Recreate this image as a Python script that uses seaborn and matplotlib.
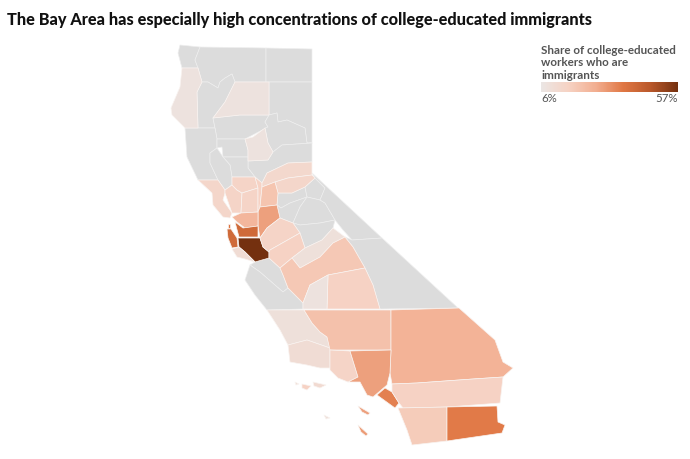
import matplotlib
matplotlib.use("Agg")
import matplotlib.pyplot as plt
import seaborn as sns
from matplotlib.collections import PolyCollection
from matplotlib.cm import ScalarMappable
from matplotlib.colors import Normalize

TITLE = "The Bay Area has especially high concentrations of college-educated immigrants"
LEGEND_TITLE = "Share of college-educated\nworkers who are\nimmigrants"
LOW, HIGH = 6, 57
RAMP = ["#ebe6e4", "#f6d2c3", "#f2ae90", "#e07744", "#b9582a", "#74300f"]

# county outlines (in picture coordinates)
shapes = {
 "Del Norte": [(180,45),(200,47),(195,60),(198,68),(182,68),(178,53)],
 "Siskiyou": [(200,47),(266,48),(266,82),(235,82),(232,74),(225,78),(220,82),(218,88),(208,82),(202,82),(198,68),(195,60)],
 "Modoc": [(266,48),(312,49),(312,82),(266,82)],
 "Humboldt": [(182,68),(198,68),(202,82),(197,92),(198,128),(185,128),(172,115),(171,108),(180,87)],
 "Trinity": [(202,82),(208,82),(218,88),(220,82),(225,78),(232,74),(235,82),(225,102),(213,118),(215,128),(198,128),(197,92)],
 "Shasta": [(235,82),(269,82),(269,115),(240,115),(213,118),(225,102)],
 "Lassen": [(269,82),(312,82),(312,143),(307,143),(305,128),(287,120),(278,122),(277,113),(269,115)],
 "Tehama": [(213,118),(240,115),(269,115),(265,122),(268,127),(245,139),(217,139),(215,128)],
 "Plumas": [(269,115),(277,113),(278,122),(287,120),(305,128),(307,143),(312,143),(282,145),(273,152),(268,143),(265,128),(268,127),(265,122)],
 "Butte": [(245,139),(253,137),(265,128),(268,143),(273,152),(268,160),(248,161),(248,150)],
 "Sierra": [(273,152),(282,145),(312,143),(312,162),(288,163),(267,173),(262,183),(255,177),(248,168),(248,161),(268,160)],
 "Mendocino": [(185,128),(215,128),(217,139),(217,148),(210,153),(210,163),(218,180),(198,180),(187,157)],
 "Glenn": [(217,139),(245,139),(248,150),(248,157),(223,157),(222,147),(217,148)],
 "Colusa": [(223,157),(248,157),(248,168),(255,177),(232,177),(230,165)],
 "Lake": [(210,153),(217,148),(223,157),(230,165),(232,177),(232,185),(225,190),(218,180),(210,163)],
 "Sonoma": [(198,180),(218,180),(225,190),(225,193),(223,200),(232,213),(230,218),(223,217),(213,205),(212,193)],
 "Napa": [(225,190),(232,185),(237,190),(242,193),(241,213),(232,213),(225,193)],
 "Yolo North": [(232,177),(255,177),(258,188),(242,193),(237,190),(232,185)],
 "Yolo": [(242,193),(258,188),(258,212),(241,213)],
 "Sutter": [(255,177),(262,183),(262,187),(260,207),(258,212),(258,188)],
 "Nevada": [(262,183),(267,173),(288,163),(312,162),(312,175),(288,178),(275,182),(262,187)],
 "Placer": [(275,182),(288,178),(312,175),(315,178),(305,187),(292,193),(278,193)],
 "Sacramento": [(262,187),(275,182),(278,193),(277,205),(260,207)],
 "San Joaquin": [(258,212),(260,207),(277,205),(280,218),(267,228),(260,238),(258,226)],
 "Solano": [(232,217),(241,213),(258,212),(258,226),(245,228),(237,222)],
 "Contra Costa": [(235,222),(243,228),(258,226),(258,237),(239,237)],
 "Santa Clara": [(238,238),(260,238),(263,247),(269,252),(269,258),(255,262),(245,252),(239,247)],
 "San Mateo": [(227,229),(231,229),(237,238),(238,247),(232,248),(228,238)],
 "San Francisco": [(228,224),(230,224),(230,228),(228,228)],
 "Santa Cruz": [(232,249),(239,247),(245,252),(255,262),(245,259),(237,257)],
 "Amador": [(278,193),(292,193),(305,187),(307,197),(290,203),(281,208),(277,205)],
 "Alpine": [(305,187),(315,178),(325,188),(320,200),(307,197)],
 "Calaveras": [(277,205),(281,208),(290,203),(307,197),(300,207),(293,223),(280,218)],
 "Tuolumne": [(307,197),(320,200),(325,203),(335,220),(320,223),(300,225),(293,223),(300,207)],
 "Mono": [(312,173),(382,238),(352,240),(343,230),(335,220),(325,203),(320,200),(325,188),(315,178)],
 "Inyo": [(352,240),(382,238),(458,308),(380,309),(373,285),(365,268),(353,247),(345,237)],
 "Stanislaus": [(260,238),(267,228),(280,218),(293,223),(300,233),(270,250),(269,252),(263,247)],
 "Merced": [(270,250),(300,233),(305,248),(292,258),(280,268),(269,258),(269,252)],
 "Mariposa": [(293,223),(300,225),(320,223),(335,220),(333,228),(322,240),(305,248),(300,233)],
 "Madera": [(292,258),(305,248),(322,240),(333,228),(345,237),(333,243),(320,257),(300,268)],
 "Fresno": [(280,268),(292,258),(300,268),(320,257),(333,243),(345,237),(353,247),(365,268),(328,275),(310,285),(303,303),(288,288),(283,275)],
 "Tulare": [(328,275),(365,268),(373,285),(380,309),(327,309)],
 "Kings": [(303,303),(310,285),(328,275),(327,309),(303,309)],
 "San Benito": [(255,262),(269,258),(280,268),(283,275),(288,288),(283,292),(260,272),(250,265)],
 "Monterey": [(245,280),(250,265),(260,272),(283,292),(288,288),(303,303),(303,309),(267,310),(255,295)],
 "San Luis Obispo": [(267,310),(304,310),(312,323),(320,332),(327,337),(330,348),(307,340),(288,345),(280,330)],
 "Santa Barbara": [(288,345),(307,340),(330,348),(330,368),(320,368),(307,365),(290,362)],
 "Kern": [(304,310),(391,310),(391,350),(330,350),(327,337),(320,332),(312,323)],
 "San Bernardino": [(391,310),(459,308),(495,340),(503,362),(513,368),(503,377),(473,379),(417,383),(392,384),(390,373),(391,350)],
 "Ventura": [(330,350),(350,351),(358,377),(348,382),(338,378),(330,370)],
 "Los Angeles": [(350,351),(391,350),(390,373),(387,385),(373,397),(367,395),(360,382),(348,382),(358,377)],
 "Orange": [(377,395),(385,388),(392,392),(399,403),(395,408)],
 "Riverside": [(392,384),(417,383),(473,379),(503,377),(500,403),(447,407),(403,408),(399,403),(392,392)],
 "San Diego": [(398,408),(447,407),(447,441),(412,445),(407,430)],
 "Imperial": [(447,407),(497,406),(498,422),(505,425),(502,433),(447,441)],
 "Island A": [(302,384),(311,386),(307,390),(302,388)],
 "Island B": [(313,382),(326,385),(320,388),(314,386)],
 "Island C": [(295,382),(299,384),(296,385)],
 "Catalina": [(358,406),(370,413),(368,415),(362,412)],
 "San Clemente": [(358,425),(368,434),(366,436),(361,432)],
 "Island D": [(324,415),(330,418),(326,419)],
}

# share of college-educated workers who are immigrants, per county
shares = {
 "Humboldt": 8, "Shasta": 8, "Butte": 8,
 "Sonoma": 14, "Napa": 15, "Yolo North": 15, "Yolo": 15, "Sutter": 16,
 "Nevada": 13, "Placer": 14, "Sacramento": 20,
 "San Joaquin": 29, "Solano": 24, "Contra Costa": 41, "Santa Clara": 57,
 "San Mateo": 41, "San Francisco": 38, "Santa Cruz": 11,
 "Stanislaus": 15, "Merced": 16, "Madera": 9, "Fresno": 19, "Tulare": 16,
 "Kings": 8, "San Luis Obispo": 9, "Santa Barbara": 11,
 "Kern": 21, "San Bernardino": 25, "Ventura": 15, "Los Angeles": 29,
 "Orange": 35, "Riverside": 16, "San Diego": 18, "Imperial": 36,
 "Island A": 16, "Island B": 12, "Island C": 10, "Catalina": 29,
 "San Clemente": 30, "Island D": 9,
}

sns.set_theme(style="white")
plt.rcParams["font.family"] = ["Lato", "DejaVu Sans"]
fig, ax = plt.subplots(figsize=(6.9, 4.59), dpi=100)
ax.set_position([0, 0, 1, 1])
ax.set_xlim(0, 690)
ax.set_ylim(459, 0)
ax.axis("off")

cmap = sns.blend_palette(RAMP, as_cmap=True)
norm = Normalize(LOW, HIGH)

no_data = [v for k, v in shapes.items() if k not in shares]
ax.add_collection(PolyCollection(no_data, facecolors="#dcdcdc", edgecolors="#eeeeee", linewidths=0.5))
names = [k for k in shapes if k in shares]
pc = PolyCollection([shapes[k] for k in names], array=[shares[k] for k in names],
                    cmap=cmap, norm=norm, edgecolors="#f9f3f0", linewidths=0.5)
ax.add_collection(pc)

ax.text(7, 20, TITLE, fontsize=11.7, fontweight="black", color="#111111", va="center", ha="left")
ax.text(541, 44.5, LEGEND_TITLE, fontsize=8.4, fontweight="bold", color="#555555", va="top", ha="left", linespacing=1.18)

cax = fig.add_axes([541/690, 1-92/459, 137/690, 10/459])
cb = fig.colorbar(ScalarMappable(norm=norm, cmap=cmap), cax=cax, orientation="horizontal")
cb.set_ticks([])
cb.outline.set_visible(False)
ax.text(541, 98, f"{LOW}%", fontsize=8.3, color="#555555", va="center", ha="left")
ax.text(678, 98, f"{HIGH}%", fontsize=8.3, color="#555555", va="center", ha="right")

fig.savefig("out.png", dpi=100)
